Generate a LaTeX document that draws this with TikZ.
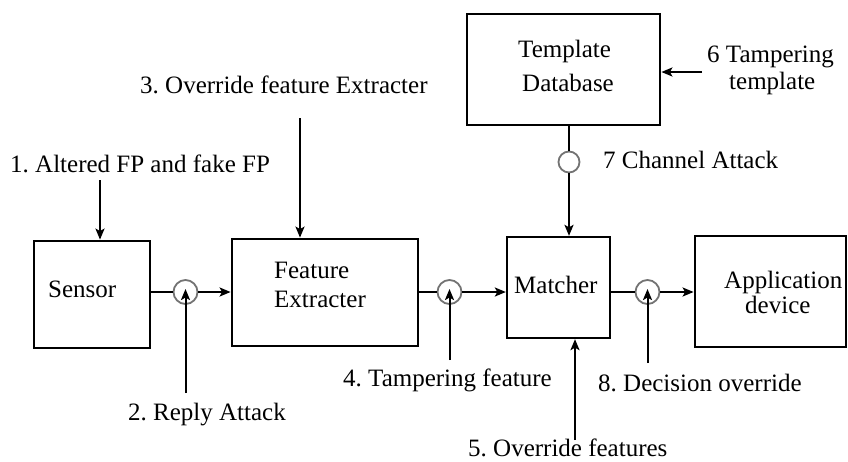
\documentclass[tikz,border=0pt]{standalone}
\usepackage{fontspec}
\setmainfont{Liberation Serif}
\usetikzlibrary{arrows.meta,calc}
\frenchspacing

\begin{document}
\begin{tikzpicture}[x=1pt,y=-1pt,
    txt/.style={inner sep=0pt,anchor=base west,font=\rmfamily\fontsize{25}{30}\selectfont},
    block/.style={draw,line width=2.8pt,rectangle,inner sep=0pt},
    tap/.style={circle,draw=black!55,line width=1.8pt,fill=white,minimum size=#1,inner sep=0pt},
    tap/.default=24pt,
    wire/.style={line width=2pt},
    flow/.style={line width=2pt,-{Stealth[length=11pt,width=9pt,inset=2.5pt]}}]
  \useasboundingbox (0,0) rectangle (848,461);

  % processing blocks
  \node[block,minimum width=116pt,minimum height=107pt] (sensor)  at (92,294.5) {};
  \node[block,minimum width=186pt,minimum height=107pt] (fe)      at (325,292.5) {};
  \node[block,line width=2.3pt,minimum width=103pt,minimum height=101pt] (matcher) at (558.5,287.5) {};
  \node[block,minimum width=151pt,minimum height=111pt] (app)     at (770.5,291.5) {};
  \node[block,minimum width=193pt,minimum height=111pt] (db)      at (563.5,69.5) {};

  % block captions
  \node[txt] (sensortxt) at (48,297) {Sensor};
  \node[txt] (fetxta) at (274,278) {Feature};
  \node[txt] (fetxtb) at (274,307) {Extracter};
  \node[txt] (matchertxt) at (514,293) {Matcher};
  \node[txt] (dbtxta) at (518,57) {Template};
  \node[txt] (dbtxtb) at (522,91) {Database};
  \node[txt] (apptxta) at (724,288) {Application};
  \node[txt] (apptxtb) at (745,313) {device};

  % attack points on the channels
  \node[tap] (c1) at (185.5,292) {};
  \node[tap] (c2) at (449.5,292) {};
  \node[tap] (c3) at (647.5,292) {};
  \node[tap=21pt] (c4) at (569,162) {};

  % data path
  \draw[wire] (c1.west -| sensor.east) -- (c1.west);
  \draw[flow] (c1.east) -- (c1.east -| fe.west);
  \draw[wire] (c2.west -| fe.east) -- (c2.west);
  \draw[flow] (c2.east) -- (c2.east -| matcher.west);
  \draw[wire] (c3.west -| matcher.east) -- (c3.west);
  \draw[flow] (c3.east) -- (c3.east -| app.west);
  \draw[wire] (c4.north |- db.south) -- (c4.north);
  \draw[flow] (c4.south) -- (c4.south |- matcher.north);

  % attack labels
  \node[txt] (l1) at (10,172) {1. Altered FP and fake FP};
  \node[txt] (l2) at (128,420) {2. Reply Attack};
  \node[txt] (l3) at (140,93) {3. Override feature Extracter};
  \node[txt] (l4) at (343,386) {4. Tampering feature};
  \node[txt] (l5) at (468,456) {5. Override features};
  \node[txt] (l6a) at (707,62) {6 Tampering};
  \node[txt] (l6b) at (729,89) {template};
  \node[txt] (l7) at (603,168) {7 Channel Attack};
  \node[txt] (l8) at (598,391) {8. Decision override};

  % attack arrows
  \coordinate (a1) at (100,180);
  \coordinate (a2) at (185.5,393);
  \coordinate (a3) at (300,118);
  \coordinate (a4) at (449.5,360);
  \coordinate (a5) at (575,440);
  \coordinate (a6) at (702,72);
  \coordinate (a8) at (647.5,363);
  \draw[flow] (a1) -- (a1 |- sensor.north);
  \draw[flow,shorten >=-3pt] (a2) -- (c1.center);
  \draw[flow] (a3) -- (a3 |- fe.north);
  \draw[flow,shorten >=-3pt] (a4) -- (c2.center);
  \draw[flow] (a5) -- (a5 |- matcher.south);
  \draw[flow] (a6) -- (a6 -| db.east);
  \draw[flow,shorten >=-3pt] (a8) -- (c3.center);
\end{tikzpicture}
\end{document}
